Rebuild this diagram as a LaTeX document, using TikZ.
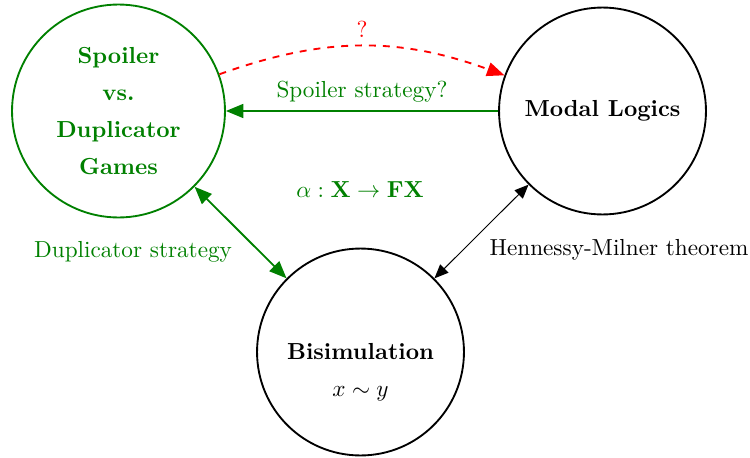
\documentclass[tikz,border=0pt]{standalone}
\usetikzlibrary{arrows.meta}
\definecolor{gamegreen}{rgb}{0,0.5,0}
\begin{document}
\begin{tikzpicture}[x=0.4311pt,y=-0.4311pt,
  state/.style={circle,draw,thick,align=center,font=\bfseries,inner sep=0pt},
  greenlink/.style={draw=gamegreen,thick,text=gamegreen},
  blacklink/.style={draw=black,thin},
  redlink/.style={draw=red,thick,dashed,text=red}]
\useasboundingbox (0,0) rectangle (750,457);

% the three states
\node[state,draw=gamegreen,text=gamegreen,minimum size=91.8pt] (games) at (118.5,111)
  {Spoiler\\[4pt] vs.\\[4pt] Duplicator\\[4pt] Games};
\node[state,minimum size=89.2pt] (modal) at (602.5,111) {Modal Logics};
\node[state,minimum size=89.2pt] (bisim) at (360.5,352) {Bisimulation};
\node (bisimrel) at (360.5,394) {$x\sim y$};

% coalgebra in the middle
\node[text=gamegreen] (coalg) at (360,190) {$\alpha:\mathbf{X}\to\mathbf{FX}$};

% connections
\draw[redlink,-{Triangle[length=7.5pt,width=6pt]}] (games) to[bend left=20]
  node[above] {?} (modal);
\draw[greenlink,-{Triangle[length=7.5pt,width=6pt]}] (modal) --
  node[above] {Spoiler strategy?} (games);
\draw[greenlink,{Triangle[length=7.5pt,width=6pt]}-{Triangle[length=7.5pt,width=6pt]}] (games) --
  node[below left] {Duplicator strategy} (bisim);
\draw[blacklink,{Triangle[length=6pt,width=5pt]}-{Triangle[length=6pt,width=5pt]}] (modal) --
  node[below right] {Hennessy-Milner theorem} (bisim);
\end{tikzpicture}
\end{document}
